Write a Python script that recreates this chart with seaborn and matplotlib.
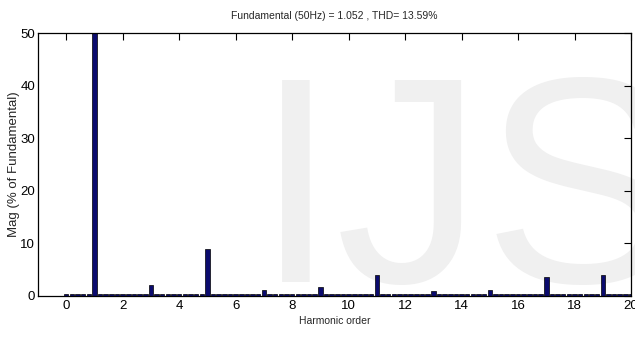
import numpy as np
import pandas as pd
import matplotlib
matplotlib.use("Agg")
import matplotlib.pyplot as plt
import seaborn as sns

# FFT bins, 10 Hz resolution -> 0.2 harmonic order steps
bin_order = np.round(np.arange(0, 20.01, 0.2), 1)

# magnitude (% of fundamental) per bin, 5 bins per harmonic unit
mag = [
    0.3, 0.3, 0.3, 0.3, 0.3,   # 0.0 - 0.8
    100.0, 0.3, 0.3, 0.3, 0.3,  # 1
    0.3, 0.3, 0.3, 0.3, 0.3,   # 2
    2.0, 0.3, 0.3, 0.3, 0.3,   # 3
    0.3, 0.3, 0.3, 0.3, 0.3,   # 4
    8.9, 0.3, 0.3, 0.3, 0.3,   # 5
    0.3, 0.3, 0.3, 0.3, 0.3,   # 6
    1.0, 0.3, 0.3, 0.3, 0.3,   # 7
    0.3, 0.3, 0.3, 0.3, 0.3,   # 8
    1.6, 0.3, 0.3, 0.3, 0.3,   # 9
    0.3, 0.3, 0.3, 0.3, 0.3,   # 10
    3.9, 0.3, 0.3, 0.3, 0.3,   # 11
    0.3, 0.3, 0.3, 0.3, 0.3,   # 12
    0.8, 0.3, 0.3, 0.3, 0.3,   # 13
    0.3, 0.3, 0.3, 0.3, 0.3,   # 14
    1.0, 0.3, 0.3, 0.3, 0.3,   # 15
    0.3, 0.3, 0.3, 0.3, 0.3,   # 16
    3.5, 0.3, 0.3, 0.3, 0.3,   # 17
    0.3, 0.3, 0.3, 0.3, 0.3,   # 18
    3.9, 0.3, 0.3, 0.3, 0.3,   # 19
    0.3,                       # 20
]

xticks = [0, 2, 4, 6, 8, 10, 12, 14, 16, 18, 20]
yticks = [0, 10, 20, 30, 40, 50]
title = "Fundamental (50Hz) = 1.052 , THD= 13.59%"

df = pd.DataFrame({"order": bin_order, "mag": mag})

sns.set_theme(style="white")
plt.rcParams["font.family"] = ["Liberation Sans", "DejaVu Sans"]

fig = plt.figure(figsize=(6.35, 3.37), dpi=100)
ax = fig.add_axes([0.0598, 0.1226, 0.9339, 0.7794])
ax.patch.set_alpha(0)

# watermark
fig.text(255 / 635, 1 - 282 / 337, "IJS", fontsize=212, color="#f0f0f0",
         va="baseline", ha="left", zorder=-10)

sns.barplot(data=df, x="order", y="mag", native_scale=True, width=0.8,
            color="#0b0b6e", edgecolor="black", linewidth=0.5, saturation=1, ax=ax)

ax.set_xlim(-1, 20)
ax.set_ylim(0, 50)
ax.set_xticks(xticks)
ax.set_yticks(yticks)
ax.tick_params(direction="in", length=5, width=0.8, top=True, right=True,
               labelsize=9.5, colors="black", pad=3)
ax.tick_params(axis="y", pad=2)
for s in ax.spines.values():
    s.set_color("black")
    s.set_linewidth(0.9)

ax.set_title(title, fontsize=7.5, pad=10)
ax.set_xlabel("Harmonic order", fontsize=7.5, labelpad=3)
ax.set_ylabel("Mag (% of Fundamental)", fontsize=9.5)
ax.yaxis.set_label_coords(-0.031, 0.5)

fig.savefig("out.png", dpi=100)
